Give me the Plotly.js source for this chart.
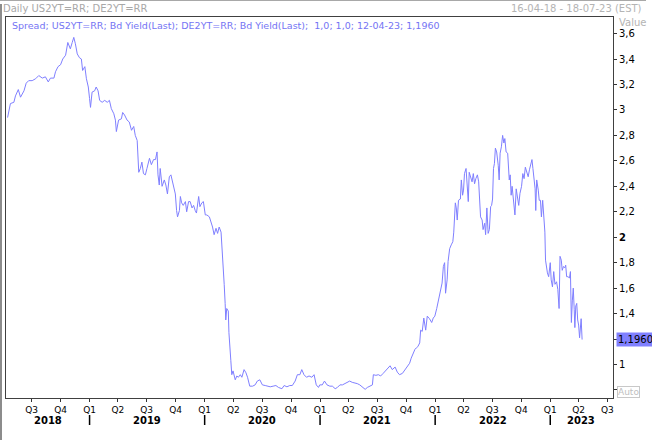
<!DOCTYPE html>
<html>
<head>
<meta charset="utf-8">
<script src="https://cdn.plot.ly/plotly-3.0.1.min.js"></script>
<style>html,body{margin:0;padding:0;background:#fff;}#chart{width:652px;height:440px;}</style>
</head>
<body>
<div id="chart"></div>
<script>
// ---- Data: Spread US2YT=RR - DE2YT=RR (Bid Yield, Last) ----
const dates = [
'2018-04-16','2018-04-20','2018-04-25','2018-05-06','2018-05-11','2018-05-20','2018-05-27','2018-06-07','2018-06-14','2018-06-22',
'2018-07-03','2018-07-14','2018-07-24','2018-08-04','2018-08-14','2018-08-23','2018-08-30','2018-09-10','2018-09-15','2018-09-23',
'2018-10-01','2018-10-08','2018-10-17','2018-10-24','2018-11-01','2018-11-07','2018-11-12','2018-11-17','2018-11-23','2018-11-30',
'2018-12-06','2018-12-10','2018-12-17','2018-12-22','2018-12-28','2019-01-01','2019-01-04','2019-01-09','2019-01-17','2019-01-22',
'2019-01-28','2019-02-02','2019-02-10','2019-02-18','2019-02-26','2019-03-05','2019-03-11','2019-03-19','2019-03-24','2019-03-27',
'2019-04-03','2019-04-12','2019-04-16','2019-04-22','2019-04-30','2019-05-07','2019-05-14','2019-05-21','2019-05-26','2019-06-01',
'2019-06-03','2019-06-06','2019-06-11','2019-06-16','2019-06-21','2019-06-27','2019-07-02','2019-07-10','2019-07-16','2019-07-23',
'2019-07-29','2019-08-03','2019-08-06','2019-08-10','2019-08-13','2019-08-19','2019-08-26','2019-08-31','2019-09-05','2019-09-11',
'2019-09-16','2019-09-21','2019-09-27','2019-09-30','2019-10-04','2019-10-07','2019-10-13','2019-10-16','2019-10-20','2019-10-25',
'2019-11-01','2019-11-05','2019-11-11','2019-11-16','2019-11-22','2019-11-27','2019-12-02','2019-12-06','2019-12-13','2019-12-17',
'2019-12-23','2019-12-28','2020-01-03','2020-01-08','2020-01-16','2020-01-21','2020-01-26','2020-01-31','2020-02-06','2020-02-11',
'2020-02-16','2020-02-22','2020-02-25','2020-02-28','2020-03-03','2020-03-06','2020-03-08','2020-03-11','2020-03-16','2020-03-18',
'2020-03-21','2020-03-24','2020-03-27','2020-03-31','2020-04-07','2020-04-12','2020-04-17','2020-04-23','2020-04-28','2020-05-05',
'2020-05-11','2020-05-16','2020-05-23','2020-06-01','2020-06-09','2020-06-16','2020-06-24','2020-07-02','2020-07-11','2020-07-18',
'2020-07-27','2020-08-05','2020-08-14','2020-08-22','2020-09-02','2020-09-09','2020-09-18','2020-09-27','2020-10-05','2020-10-14',
'2020-10-21','2020-10-29','2020-11-04','2020-11-11','2020-11-19','2020-11-27','2020-12-06','2020-12-13','2020-12-20','2020-12-27',
'2020-12-31','2021-01-08','2021-01-15','2021-01-23','2021-02-01','2021-02-09','2021-02-18','2021-02-25','2021-03-05','2021-03-13',
'2021-03-21','2021-03-29','2021-04-05','2021-04-13','2021-04-22','2021-04-29','2021-05-07','2021-05-15','2021-05-24','2021-05-31',
'2021-06-09','2021-06-16','2021-06-19','2021-06-27','2021-07-05','2021-07-12','2021-07-20','2021-07-28','2021-08-04','2021-08-11',
'2021-08-18','2021-08-27','2021-09-03','2021-09-10','2021-09-19','2021-09-27','2021-10-05','2021-10-12','2021-10-17','2021-10-23',
'2021-10-29','2021-11-02','2021-11-07','2021-11-13','2021-11-16','2021-11-21','2021-11-26','2021-12-02','2021-12-07','2021-12-14',
'2021-12-21','2021-12-26','2021-12-31','2022-01-06','2022-01-11','2022-01-15','2022-01-20','2022-01-23','2022-01-27','2022-01-31',
'2022-02-03','2022-02-08','2022-02-11','2022-02-16','2022-02-21','2022-02-26','2022-03-01','2022-03-04','2022-03-06','2022-03-09',
'2022-03-12','2022-03-16','2022-03-22','2022-03-25','2022-03-29','2022-04-01','2022-04-04','2022-04-09','2022-04-13','2022-04-16',
'2022-04-19','2022-04-24','2022-04-28','2022-05-02','2022-05-06','2022-05-10','2022-05-15','2022-05-19','2022-05-22','2022-05-25',
'2022-05-30','2022-06-02','2022-06-07','2022-06-10','2022-06-14','2022-06-18','2022-06-22','2022-06-26','2022-06-29','2022-07-02',
'2022-07-05','2022-07-08','2022-07-11','2022-07-15','2022-07-20','2022-07-23','2022-07-26','2022-07-30','2022-08-03','2022-08-07',
'2022-08-10','2022-08-14','2022-08-19','2022-08-21','2022-08-24','2022-08-27','2022-08-30','2022-09-02','2022-09-07','2022-09-11',
'2022-09-15','2022-09-19','2022-09-23','2022-09-27','2022-10-02','2022-10-06','2022-10-10','2022-10-14','2022-10-19','2022-10-23',
'2022-10-27','2022-10-31','2022-11-04','2022-11-07','2022-11-11','2022-11-14','2022-11-16','2022-11-19','2022-11-24','2022-11-27',
'2022-12-01','2022-12-04','2022-12-08','2022-12-11','2022-12-15','2022-12-17','2022-12-19','2022-12-23','2022-12-27','2023-01-01',
'2023-01-04','2023-01-08','2023-01-12','2023-01-16','2023-01-21','2023-01-25','2023-01-29','2023-02-01','2023-02-05','2023-02-08',
'2023-02-12','2023-02-16','2023-02-19','2023-02-22','2023-02-26','2023-03-03','2023-03-06','2023-03-09','2023-03-12','2023-03-15',
'2023-03-18','2023-03-20','2023-03-23','2023-03-26','2023-03-29','2023-04-01','2023-04-04','2023-04-07','2023-04-09','2023-04-12'
];
const spread = [
2.94,3.00,3.05,3.06,3.11,3.16,3.10,3.15,3.21,3.23,
3.23,3.245,3.27,3.25,3.26,3.22,3.25,3.25,3.30,3.34,
3.355,3.40,3.43,3.53,3.48,3.53,3.57,3.52,3.44,3.41,
3.40,3.31,3.34,3.245,3.18,3.09,3.02,3.14,3.15,3.18,
3.15,3.075,3.06,3.075,3.06,3.075,3.01,2.97,2.92,2.83,
2.92,2.93,2.98,2.96,2.92,2.905,2.84,2.87,2.80,2.76,
2.67,2.51,2.54,2.59,2.50,2.49,2.54,2.62,2.57,2.61,
2.61,2.67,2.49,2.41,2.54,2.40,2.45,2.41,2.34,2.475,
2.49,2.435,2.38,2.34,2.21,2.16,2.21,2.32,2.27,2.25,
2.28,2.20,2.28,2.28,2.23,2.25,2.21,2.19,2.32,2.24,
2.27,2.28,2.175,2.175,2.16,2.12,2.08,2.02,2.07,2.03,
2.08,2.04,1.93,1.85,1.63,1.48,1.35,1.44,1.42,1.25,
1.17,1.03,0.92,0.95,0.88,0.91,0.90,0.92,0.90,0.96,
0.935,0.90,0.83,0.83,0.84,0.87,0.88,0.84,0.835,0.83,
0.825,0.83,0.835,0.82,0.81,0.835,0.825,0.835,0.835,0.87,
0.92,0.92,0.96,0.92,0.90,0.91,0.90,0.92,0.84,0.82,
0.84,0.84,0.87,0.84,0.83,0.83,0.81,0.82,0.84,0.84,
0.85,0.86,0.87,0.86,0.855,0.85,0.84,0.82,0.805,0.82,
0.83,0.84,0.92,0.915,0.92,0.91,0.93,0.95,0.975,0.99,
0.96,0.98,0.94,0.92,0.93,0.96,0.99,1.01,1.05,1.09,
1.12,1.13,1.14,1.17,1.27,1.26,1.365,1.27,1.38,1.36,
1.33,1.365,1.38,1.44,1.50,1.56,1.61,1.64,1.77,1.80,
1.56,1.665,1.81,1.91,1.94,1.965,2.04,2.15,2.27,2.23,
2.135,2.29,2.30,2.45,2.33,2.37,2.50,2.54,2.37,2.28,
2.51,2.475,2.435,2.50,2.42,2.46,2.49,2.435,2.25,2.16,
2.135,2.06,2.11,2.02,2.23,2.03,2.06,2.24,2.25,2.30,
2.54,2.58,2.70,2.67,2.565,2.45,2.66,2.71,2.80,2.74,
2.775,2.67,2.66,2.51,2.45,2.49,2.33,2.40,2.30,2.175,
2.38,2.32,2.25,2.345,2.40,2.50,2.46,2.55,2.50,2.475,
2.53,2.565,2.61,2.54,2.46,2.38,2.21,2.45,2.37,2.29,
2.29,2.16,2.29,2.20,2.04,1.82,1.77,1.72,1.69,1.80,
1.665,1.61,1.73,1.63,1.65,1.59,1.44,1.85,1.82,1.74,
1.77,1.76,1.78,1.69,1.69,1.68,1.73,1.33,1.50,1.60,
1.43,1.29,1.46,1.48,1.35,1.31,1.21,1.31,1.36,1.196
];
const lastValueText = '1,1960';

// Axis ticks
const quarterDates = ['2018-07-01','2018-10-01','2019-01-01','2019-04-01','2019-07-01','2019-10-01','2020-01-01','2020-04-01','2020-07-01','2020-10-01',
  '2021-01-01','2021-04-01','2021-07-01','2021-10-01','2022-01-01','2022-04-01','2022-07-01','2022-10-01','2023-01-01','2023-04-01','2023-07-01'];
const quarterLabels = ['Q3','Q4','Q1','Q2','Q3','Q4','Q1','Q2','Q3','Q4','Q1','Q2','Q3','Q4','Q1','Q2','Q3','Q4','Q1','Q2','Q3'];
const years = ['2018','2019','2020','2021','2022','2023'];
// the 1,2 label is hidden behind the last-value box in the reference
const yTickVals = [0.8,1,1.2,1.4,1.6,1.8,2,2.2,2.4,2.6,2.8,3,3.2,3.4,3.6];
const yTickText = ['','1','','1,4','1,6','1,8','<b>2</b>','2,2','2,4','2,6','2,8','3','3,2','3,4','3,6'];

const xRange = ['2018-04-11','2023-07-19'];
const yRange = [0.737, 3.73];

// ---- Layout helpers (pixel -> paper) ----
const W = 652, H = 440, L = 6, R = 39, T = 17, B = 42;
const pw = W - L - R, ph = H - T - B;
const px = x => (x - L) / pw;
const py = y => (H - B - y) / ph;

const FONT = 'DejaVu Sans, Verdana, sans-serif';
const lineColor = '#7f7fff';

const shapes = [];
// year separators below the axis
years.slice(1).forEach(y => {
  shapes.push({type:'line', xref:'x', yref:'paper', x0:y+'-01-01', x1:y+'-01-01', y0:py(415), y1:py(425),
    line:{color:'#000', width:1.5}});
});
// outer window borders
shapes.push({type:'line', xref:'paper', yref:'paper', x0:px(1), x1:px(1), y0:py(4), y1:py(440), line:{color:'#8c8c8c', width:2}});
shapes.push({type:'line', xref:'paper', yref:'paper', x0:px(0), x1:px(646), y0:py(0.5), y1:py(0.5), line:{color:'#a8a8a8', width:1}});

const annotations = [];
// year labels centered on visible part of each year
const t0 = new Date(xRange[0]).getTime(), t1 = new Date(xRange[1]).getTime();
years.forEach(y => {
  const a = Math.max(t0, new Date(y+'-01-01').getTime());
  const b = Math.min(t1, new Date((+y+1)+'-01-01').getTime());
  const mid = new Date((a+b)/2).toISOString().slice(0,10);
  annotations.push({xref:'x', yref:'paper', x:mid, y:0, yanchor:'middle', yshift:-22, showarrow:false,
    text:'<b>'+y+'</b>', font:{family:FONT, size:10, color:'#000'}});
});
annotations.push({xref:'paper', yref:'paper', x:0, y:1, xanchor:'left', yanchor:'middle', xshift:-5, yshift:9,
  showarrow:false, text:'Daily US2YT=RR; DE2YT=RR', font:{family:FONT, size:10, color:'#a8a8a8'}});
annotations.push({xref:'paper', yref:'paper', x:1, y:1, xanchor:'right', yanchor:'middle', xshift:31, yshift:9,
  showarrow:false, text:'16-04-18 - 18-07-23 (EST)', font:{family:FONT, size:10, color:'#b4b4b4'}});
annotations.push({xref:'paper', yref:'paper', x:0, y:1, xanchor:'left', yanchor:'middle', xshift:4, yshift:-8,
  showarrow:false, text:'Spread; US2YT=RR; Bd Yield(Last); DE2YT=RR; Bd Yield(Last);  1,0; 1,0; 12-04-23; ' + lastValueText,
  font:{family:FONT, size:9.5, color:'#7474f4'}});
annotations.push({xref:'paper', yref:'paper', x:1, y:1, xanchor:'left', yanchor:'middle', xshift:4, yshift:-5,
  showarrow:false, text:'Value', font:{family:FONT, size:10, color:'#b4b4b4'}});
annotations.push({xref:'paper', yref:'y', x:1, y:spread[spread.length-1], xanchor:'left', yanchor:'middle', xshift:3,
  showarrow:false, text:lastValueText, bgcolor:'#8080ff', borderpad:1, font:{family:FONT, size:10, color:'#000'}});
annotations.push({xref:'paper', yref:'paper', x:1, y:0, xanchor:'left', yanchor:'bottom', xshift:4, yshift:0,
  showarrow:false, text:'Auto', bordercolor:'#c8c8c8', borderwidth:1, borderpad:0, font:{family:FONT, size:9, color:'#c0c0c0'}});

const trace = {type:'scatter', mode:'lines', x:dates, y:spread, line:{color:lineColor, width:1}, hoverinfo:'skip'};

const layout = {
  width:W, height:H,
  margin:{l:L, r:R, t:T, b:B, pad:0},
  paper_bgcolor:'#fff', plot_bgcolor:'#fff',
  showlegend:false,
  font:{family:FONT, size:10, color:'#000'},
  xaxis:{type:'date', range:xRange, tickmode:'array', tickvals:quarterDates, ticktext:quarterLabels,
    ticks:'outside', ticklen:3, tickwidth:1, tickcolor:'#333', tickfont:{family:FONT, size:9, color:'#000'},
    showgrid:false, zeroline:false, showline:true, mirror:true, linecolor:'#404040', linewidth:1, fixedrange:true},
  yaxis:{side:'right', range:yRange, tickmode:'array', tickvals:yTickVals, ticktext:yTickText,
    ticks:'outside', ticklen:3, tickwidth:1, tickcolor:'#333', tickfont:{family:FONT, size:10, color:'#000'},
    showgrid:false, zeroline:false, showline:true, mirror:true, linecolor:'#404040', linewidth:1, fixedrange:true},
  shapes:shapes,
  annotations:annotations
};

Plotly.newPlot('chart', [trace], layout, {staticPlot:true, displayModeBar:false});
</script>
</body>
</html>
